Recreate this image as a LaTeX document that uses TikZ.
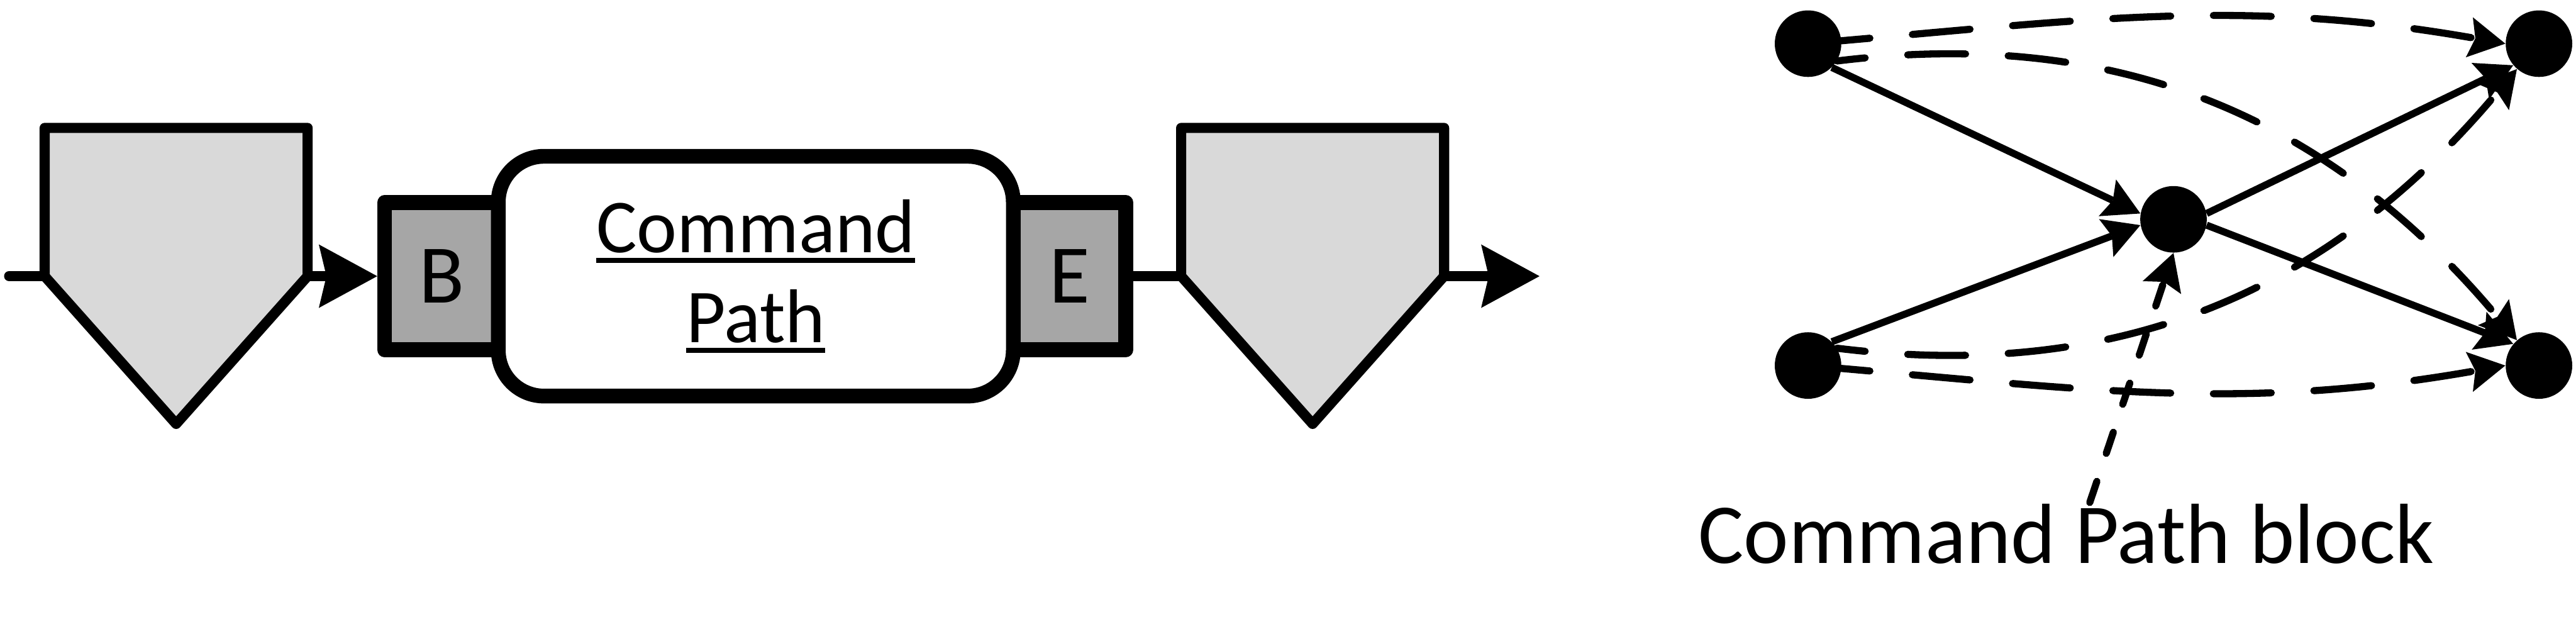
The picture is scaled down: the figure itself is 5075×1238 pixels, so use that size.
\documentclass[tikz,border=0pt]{standalone}
\usepackage{fontspec}
\setmainfont{Carlito}
\usepackage{tikz}
\usetikzlibrary{arrows.meta, positioning}
\definecolor{partgray}{RGB}{217,217,217}
\definecolor{capgray}{RGB}{166,166,166}
\newcommand{\ulword}[1]{\setbox0\hbox{#1}\rlap{\rule[-0.14em]{\wd0}{0.067em}}\box0}

\begin{document}
\begin{tikzpicture}[x=0.01cm, y=0.01cm,
  part/.style={draw, line width=0.2cm, line join=round, fill=partgray},
  wire/.style={line width=0.2cm, line cap=round},
  wirearrow/.style={wire, -{Stealth[length=1.15cm, width=1.25cm, inset=0.15cm, line width=0pt]}},
  capbox/.style={rectangle, draw, line width=0.29cm, line join=round, fill=capgray,
                 minimum height=2.9cm, inner sep=0pt, font=\fontsize{1.64cm}{1.9cm}\selectfont},
  cmdbox/.style={rectangle, rounded corners=0.9cm, draw, line width=0.29cm, fill=white,
                 minimum width=10.14cm, minimum height=4.72cm, align=center,
                 font=\fontsize{1.5cm}{1.77cm}\selectfont},
  dot/.style={circle, fill=black, minimum size=1.31cm, inner sep=0pt},
  link/.style={line width=0.14cm, -{Stealth[length=0.72cm, width=0.8cm, inset=0.12cm, line width=0pt]}},
  dlink/.style={link, line cap=round, dash pattern=on 1.14cm off 0.84cm, dash phase=0.58cm},
  hint/.style={link, line cap=round, dash pattern=on 0.44cm off 0.58cm}
]
\useasboundingbox (0,0) rectangle (5075,-1238);

% parts on the strand
\foreach \px/\nm in {88/lp, 2327/rp} {
  \draw[part] (\px,-252) -- ++(518,0) -- ++(0,-292) -- ++(-259,-291) -- ++(-259,291) -- cycle;
  \coordinate (\nm-w) at (\px,-544);
  \coordinate (\nm-e) at (\px+518,-544);
}
\coordinate (in)  at (18,-544);
\coordinate (out) at (3033,-544);

\node[capbox, minimum width=2.245cm] (B) at (870,-544) {B};
\node[capbox, minimum width=2.215cm] (E) at (2107,-544) {E};
\node[cmdbox] (cmd) at (1489,-544) {\ulword{Command}\\\ulword{Path}};

\draw[wire] (in) -- (lp-w);
\draw[wirearrow] (lp-e) -- (B.west);
\draw[wire] (E.east) -- (rp-w);
\draw[wirearrow] (rp-e) -- (out);

% block graph
\node[dot] (tl)  at (3562,-86) {};
\node[dot] (tr)  at (5002,-86) {};
\node[dot] (bl)  at (3562,-720) {};
\node[dot] (br)  at (5002,-720) {};
\node[dot] (ctr) at (4282,-432) {};

\draw[link] (tl.-45) -- (ctr.170);
\draw[link] (bl.45) -- (ctr.190);
\draw[link] (ctr.10) -- (tr.-140);
\draw[link] (ctr.-10) -- (br.140);

\draw[dlink] (tl.5) to[out=5, in=170] (tr.west);
\draw[dlink] (bl.-5) to[out=-5, in=-170] (br.west);
\draw[dlink] (tl.-31) to[out=7, in=130] (br.131);
\draw[dlink] (bl.31) to[out=-7, in=-130] (tr.-131);

\node[anchor=base, font=\fontsize{1.68cm}{2cm}\selectfont] (lbl) at (4071,-1109) {Command Path block};
\draw[hint] ([xshift=0.46cm, yshift=-0.1cm]lbl.north) -- (ctr.south);
\end{tikzpicture}
\end{document}
